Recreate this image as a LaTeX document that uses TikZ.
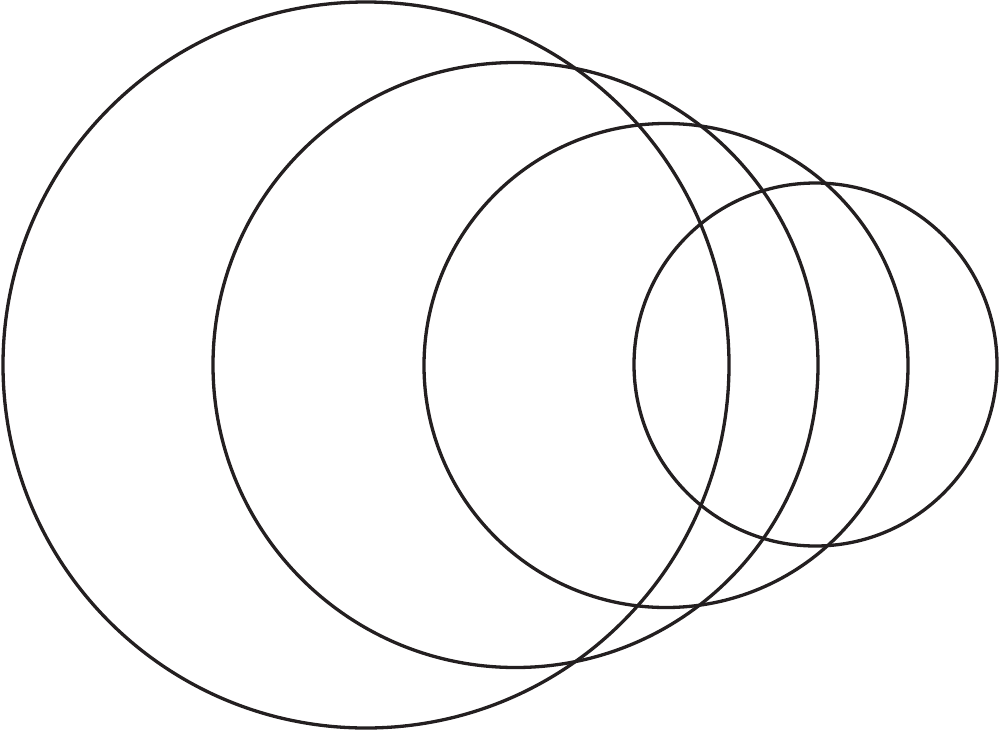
\documentclass[tikz,border=0pt]{standalone}
\definecolor{ink}{HTML}{231F20}
\begin{document}
\begin{tikzpicture}[x=1pt,y=-1pt,
  ring/.style={circle,draw=ink,line width=3.3pt,inner sep=0pt,outer sep=0pt}]
\useasboundingbox (0,0) rectangle (1000,731);
\node[ring,minimum size=726pt] (c1) at (366,365) {};
\node[ring,minimum size=605pt] (c2) at (515.5,365) {};
\node[ring,minimum size=484pt] (c3) at (666,365.5) {};
\node[ring,minimum size=363pt] (c4) at (815.5,364.5) {};
\end{tikzpicture}
\end{document}
